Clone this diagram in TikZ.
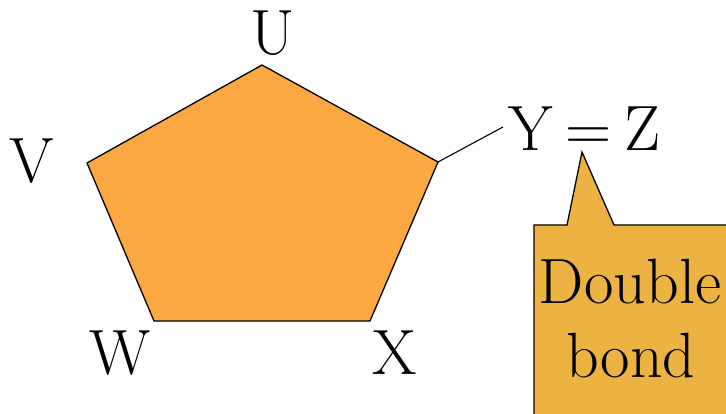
\documentclass[tikz,border=0pt]{standalone}
\definecolor{pentfill}{HTML}{FBA842}
\definecolor{callfill}{HTML}{ECB342}
\begin{document}
\begin{tikzpicture}[x=1pt,y=-1pt,
  lbl/.style={inner sep=0pt,anchor=base,font=\fontsize{64}{74}\selectfont},
  edge/.style={draw=black,line width=1.3pt,line join=miter}]
\useasboundingbox (0,0) rectangle (726,414);
\begin{scope}
\clip (0,0) rectangle (726,414);
% pentagon vertices
\coordinate (pU) at (262,65);
\coordinate (pR) at (438,162);
\coordinate (pX) at (370,321);
\coordinate (pW) at (154,321);
\coordinate (pV) at (87,163);
\filldraw[edge,fill=pentfill] (pU) -- (pR) -- (pX) -- (pW) -- (pV) -- cycle;
% labels
\node[lbl] (U) at (273,55) {U};
\node[lbl] (V) at (32,183) {V};
\node[lbl] (W) at (120,374) {W};
\node[lbl] (X) at (395,374) {X};
\node[lbl,anchor=base west] (YZ) at (508,151) {Y\hspace{0.2em}=\hspace{0.2em}Z};
\coordinate (bondend) at (503,127);
\draw[line width=1.1pt] (pR) -- (bondend);
% callout
\coordinate (tip) at (582,152);
\filldraw[edge,fill=callfill] (534,420) -- (534,225) -- (567,225) -- (tip) -- (614,225) -- (740,225) -- (740,420) -- cycle;
\node[lbl] (dbl) at (630,303) {Double};
\node[lbl] (bnd) at (631,377) {bond};
\end{scope}
\end{tikzpicture}
\end{document}
